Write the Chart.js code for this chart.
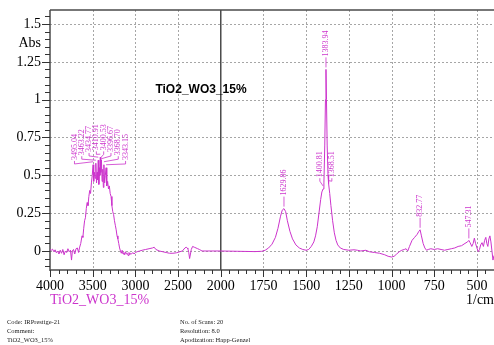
<!DOCTYPE html>
<html>
<head>
<meta charset="utf-8">
<script src="https://cdn.jsdelivr.net/npm/chart.js@4.4.0/dist/chart.umd.min.js"></script>
<style>
  html, body { margin: 0; padding: 0; background: #fff; }
  canvas { display: block; }
</style>
</head>
<body>
<canvas id="chart" width="494" height="345"></canvas>
<script>
// FTIR spectrum of the TiO2_WO3_15% sample (absorbance vs wavenumber)
const sampleName = 'TiO2_WO3_15%';

const wavenumbers = [
  4000, 3985, 3970, 3955, 3940, 3925, 3910, 3895, 3880, 3865, 3850, 3835, 3820, 3805, 3790,
  3775, 3760, 3748, 3738, 3725, 3710, 3695, 3680, 3665, 3655, 3640, 3625, 3615, 3605, 3595,
  3585, 3575, 3565, 3555, 3545, 3535, 3525, 3515, 3505, 3495.04, 3488, 3480, 3470, 3463.22, 3455,
  3448, 3442, 3434.77, 3428, 3420, 3415, 3410.91, 3405, 3400.53, 3396.67, 3390, 3382, 3375, 3368.70,
  3360, 3352, 3343.15, 3335, 3325, 3315, 3305, 3295, 3285, 3275, 3265, 3255, 3245, 3235, 3225,
  3215, 3205, 3195, 3185, 3175, 3165, 3155, 3145, 3135, 3125, 3115, 3105, 3095, 3085, 3075,
  3065, 3055, 3045, 3030, 3015, 3000, 2980, 2950, 2920, 2880, 2840, 2800, 2780, 2760, 2720,
  2680, 2640, 2600, 2560, 2520, 2480, 2450, 2420, 2405, 2395, 2385, 2375, 2365, 2355, 2345,
  2330, 2310, 2290, 2270, 2250, 2220, 2150, 2000, 1900, 1800, 1760, 1740, 1720, 1700, 1680,
  1665, 1650, 1640, 1629.86, 1620, 1610, 1595, 1580, 1560, 1540, 1520, 1500, 1485, 1470, 1455,
  1445, 1435, 1425, 1415, 1408, 1400.81, 1396, 1391, 1387, 1383.94, 1381, 1377, 1372, 1368.51, 1362,
  1355, 1345, 1335, 1325, 1315, 1300, 1280, 1250, 1220, 1200, 1180, 1150, 1130, 1100, 1070,
  1040, 1020, 1000, 985, 970, 955, 940, 925, 915, 905, 895, 880, 865, 850, 840,
  832.77, 825, 815, 805, 795, 785, 770, 750, 730, 710, 690, 670, 650, 630, 610,
  590, 570, 555, 547.31, 540, 530, 522, 515, 508, 500, 492, 485, 478, 470, 462,
  455, 448, 442, 436, 430, 424, 418, 412, 406, 400
];

const absorbance = [
  0.010, 0.005, 0.012, -0.005, 0.008, -0.012, 0.000, -0.020, 0.005, -0.015, 0.010, -0.025, 0.000, -0.010, 0.015,
  -0.005, 0.005, -0.060, 0.000, 0.010, -0.020, 0.015, 0.020, -0.010, 0.020, 0.050, 0.100, 0.090, 0.150, 0.200,
  0.220, 0.280, 0.320, 0.300, 0.360, 0.400, 0.380, 0.450, 0.500, 0.570, 0.460, 0.520, 0.480, 0.580, 0.450,
  0.520, 0.470, 0.600, 0.440, 0.550, 0.500, 0.620, 0.520, 0.600, 0.590, 0.460, 0.540, 0.420, 0.570,
  0.450, 0.500, 0.550, 0.430, 0.460, 0.410, 0.430, 0.380, 0.360, 0.300, 0.260, 0.240, 0.200, 0.170, 0.140,
  0.100, 0.080, 0.050, 0.020, 0.000, -0.015, 0.005, -0.020, -0.010, -0.025, -0.005, -0.020, -0.015, -0.030, -0.010,
  -0.025, -0.015, -0.020, -0.010, -0.020, -0.010, -0.005, 0.000, 0.005, 0.010, 0.015, 0.020, 0.025, 0.010, 0.000,
  -0.005, -0.010, -0.015, -0.015, -0.012, -0.005, 0.000, 0.020, 0.025, 0.020, 0.015, -0.010, -0.050, -0.020, 0.010,
  0.030, 0.025, 0.020, 0.015, 0.010, 0.000, 0.000, 0.000, -0.002, -0.004, -0.002, 0.005, 0.020, 0.045, 0.090,
  0.150, 0.230, 0.270, 0.280, 0.260, 0.200, 0.130, 0.080, 0.040, 0.020, 0.010, 0.005, 0.010, 0.030, 0.060,
  0.100, 0.160, 0.250, 0.340, 0.390, 0.410, 0.450, 0.700, 1.000, 1.200, 1.000, 0.700, 0.500, 0.445, 0.380,
  0.300, 0.200, 0.120, 0.070, 0.040, 0.020, 0.010, 0.005, 0.008, 0.005, 0.000, 0.005, -0.005, -0.010, -0.015,
  -0.025, -0.035, -0.040, -0.035, -0.020, -0.005, 0.005, 0.010, 0.015, 0.000, 0.030, 0.070, 0.090, 0.110, 0.130,
  0.140, 0.100, 0.050, 0.020, 0.005, 0.010, 0.015, 0.010, 0.015, 0.010, 0.005, 0.010, 0.015, 0.020, 0.030,
  0.035, 0.050, 0.060, 0.070, 0.055, 0.030, 0.050, 0.085, 0.050, 0.020, -0.005, 0.010, 0.040, 0.055, 0.030,
  0.070, 0.090, 0.050, 0.030, 0.080, 0.100, 0.060, 0.000, -0.060, -0.030
];

// picked peaks, labelled with their wavenumber
const peakWavenumbers = [
  3495.04, 3463.22, 3434.77, 3410.91, 3400.53, 3396.67, 3368.70, 3343.15,
  1629.86, 1400.81, 1383.94, 1368.51, 832.77, 547.31
];

const xTickLabels = [4000, 3500, 3000, 2500, 2000, 1750, 1500, 1250, 1000, 750, 500];
const yTickLabels = [0, 0.25, 0.5, 0.75, 1, 1.25, 1.5];

const footerLeft = ['Code: IRPrestige-21', 'Comment:', 'TiO2_WO3_15%'];
const footerRight = ['No. of Scans: 20', 'Resolution: 8.0', 'Apodization: Happ-Genzel'];

const LINE_COLOR = '#cc33cc';
const SERIF = '"Liberation Serif", "Times New Roman", serif';
const SANS = '"Liberation Sans", Arial, sans-serif';

// the axis runs 4000 -> 2000 at half the scale of 2000 -> 400
function axisPos(wn) { return wn >= 2000 ? (4000 - wn) / 2 : 1000 + (2000 - wn); }
function axisWn(p) { return p <= 1000 ? 4000 - 2 * p : 2000 - (p - 1000); }

function absAt(wn) {
  const i = wavenumbers.indexOf(wn);
  if (i >= 0) return absorbance[i];
  for (let k = 0; k < wavenumbers.length - 1; k++) {
    const a = wavenumbers[k], b = wavenumbers[k + 1];
    if (wn <= a && wn >= b) {
      const t = (a - wn) / (a - b);
      return absorbance[k] + t * (absorbance[k + 1] - absorbance[k]);
    }
  }
  return 0;
}

const X_MAX = axisPos(400);
const Y_MIN = -0.1256;
const Y_MAX = 1.5925;

function hline(ctx, x1, x2, yy) { ctx.beginPath(); ctx.moveTo(x1, yy); ctx.lineTo(x2, yy); ctx.stroke(); }
function vline(ctx, xx, y1, y2) { ctx.beginPath(); ctx.moveTo(xx, y1); ctx.lineTo(xx, y2); ctx.stroke(); }

// grid, minor ticks, frame and the 2000 scale break
const framePlugin = {
  id: 'frame',
  beforeDatasetsDraw(chart) {
    const { ctx, chartArea: a, scales: { x, y } } = chart;
    ctx.save();
    ctx.lineWidth = 1;
    ctx.strokeStyle = '#a6a6a6';
    ctx.setLineDash([2, 2]);
    xTickLabels.forEach(wn => {
      if (wn === 2000 || wn === 4000) return;
      vline(ctx, Math.round(x.getPixelForValue(axisPos(wn))) + 0.5, a.top, a.bottom);
    });
    yTickLabels.forEach(v => {
      hline(ctx, a.left, a.right, Math.round(y.getPixelForValue(v)) + 0.5);
    });
    ctx.setLineDash([]);

    ctx.strokeStyle = '#4a4a4a';
    ctx.lineWidth = 1.5;
    vline(ctx, x.getPixelForValue(axisPos(2000)), a.top, a.bottom);
    hline(ctx, a.left, a.right, a.top);
    vline(ctx, a.left, a.top, a.bottom + 1);
    hline(ctx, a.left, a.right, a.bottom);

    ctx.lineWidth = 1;
    ctx.strokeStyle = '#333';
    for (let p = 0; p <= X_MAX; p += 50) {
      const px = Math.round(x.getPixelForValue(p)) + 0.5;
      vline(ctx, px, a.bottom, a.bottom + (p % 250 === 0 ? 7 : 4));
    }
    for (let k = -2; k <= 31; k++) {
      const py = Math.round(y.getPixelForValue(k * 0.05)) + 0.5;
      hline(ctx, a.left - (k % 5 === 0 ? 8 : 5), a.left, py);
    }
    ctx.restore();
  },
  afterDatasetsDraw(chart) {
    const { ctx, scales: { x, y } } = chart;
    const pts = peakWavenumbers.map(wn => ({
      wn,
      px: x.getPixelForValue(axisPos(wn)),
      py: y.getPixelForValue(absAt(wn))
    })).sort((m, n) => m.px - n.px);

    // neighbouring peaks share a fan of labels
    const groups = [];
    pts.forEach(p => {
      const g = groups.find(g => Math.abs(p.px - g[g.length - 1].px) < 12 && Math.abs(p.py - g[0].py) < 40);
      if (g) g.push(p); else groups.push([p]);
    });

    ctx.save();
    ctx.strokeStyle = LINE_COLOR;
    ctx.fillStyle = LINE_COLOR;
    ctx.lineWidth = 0.8;
    ctx.font = '8px ' + SERIF;
    ctx.textAlign = 'left';
    ctx.textBaseline = 'middle';
    groups.forEach(g => {
      const cx = g.reduce((s, p) => s + p.px, 0) / g.length;
      const top = Math.min(...g.map(p => p.py));
      const gap = g.length === 2 ? 12 : 7.3;
      g.forEach((p, i) => {
        let lx, yb;
        ctx.beginPath();
        if (g.length === 1) {
          lx = p.px;
          yb = p.py - 12;
          ctx.moveTo(lx, p.py - 2);
          ctx.lineTo(lx, yb);
        } else {
          lx = cx + (i - (g.length - 1) / 2) * gap;
          yb = top - 6 + 0.015 * (lx - cx) * (lx - cx);
          ctx.moveTo(lx, yb);
          ctx.lineTo(lx, yb + 3);
          ctx.lineTo(p.px, p.py - 3);
        }
        ctx.stroke();
        ctx.save();
        ctx.translate(lx, yb - 1);
        ctx.rotate(-Math.PI / 2);
        ctx.fillText(p.wn.toFixed(2), 0, 0);
        ctx.restore();
      });
    });
    ctx.restore();
  },
  afterDraw(chart) {
    const { ctx, chartArea: a, scales: { y } } = chart;
    const name = chart.data.datasets[0].label;
    ctx.save();
    ctx.textBaseline = 'middle';

    ctx.fillStyle = '#000';
    ctx.font = '14px ' + SERIF;
    ctx.textAlign = 'right';
    ctx.fillText('Abs', a.left - 9, y.getPixelForValue(1.375));
    ctx.fillText('1/cm', a.right, 300);

    ctx.font = 'bold 12px ' + SANS;
    ctx.textAlign = 'center';
    ctx.fillText(name, a.left + 151, 90);

    ctx.fillStyle = LINE_COLOR;
    ctx.font = '14px ' + SERIF;
    ctx.textAlign = 'left';
    ctx.fillText(name, a.left, 300);

    ctx.fillStyle = '#222';
    ctx.font = '6.5px ' + SERIF;
    footerLeft.forEach((t, i) => ctx.fillText(t, 7, 322 + i * 9));
    footerRight.forEach((t, i) => ctx.fillText(t, 180, 322 + i * 9));
    ctx.restore();
  }
};

new Chart(document.getElementById('chart'), {
  type: 'line',
  data: {
    datasets: [{
      label: sampleName,
      data: wavenumbers.map((wn, i) => ({ x: axisPos(wn), y: absorbance[i] })),
      borderColor: LINE_COLOR,
      borderWidth: 1,
      pointRadius: 0,
      tension: 0,
      fill: false
    }]
  },
  options: {
    responsive: false,
    animation: false,
    devicePixelRatio: 1,
    layout: { padding: { top: 10, right: 0, left: 0, bottom: 0 } },
    plugins: { legend: { display: false }, tooltip: { enabled: false }, title: { display: false } },
    scales: {
      x: {
        type: 'linear',
        min: 0,
        max: X_MAX,
        grid: { display: false, drawTicks: false },
        border: { display: false },
        afterBuildTicks: s => { s.ticks = xTickLabels.map(wn => ({ value: axisPos(wn) })); },
        afterFit: s => { s.height = 75; s.paddingLeft = 0; s.paddingRight = 0; },
        ticks: {
          autoSkip: false,
          maxRotation: 0,
          padding: 8,
          color: '#000',
          font: { family: SERIF, size: 14 },
          callback: v => String(Math.round(axisWn(v)))
        }
      },
      y: {
        min: Y_MIN,
        max: Y_MAX,
        grid: { display: false, drawTicks: false },
        border: { display: false },
        afterBuildTicks: s => { s.ticks = yTickLabels.map(v => ({ value: v })); },
        afterFit: s => { s.width = 50; s.paddingTop = 0; s.paddingBottom = 0; },
        ticks: {
          autoSkip: false,
          padding: 9,
          color: '#000',
          font: { family: SERIF, size: 14 },
          callback: v => String(v)
        }
      }
    }
  },
  plugins: [framePlugin]
});
</script>
</body>
</html>
